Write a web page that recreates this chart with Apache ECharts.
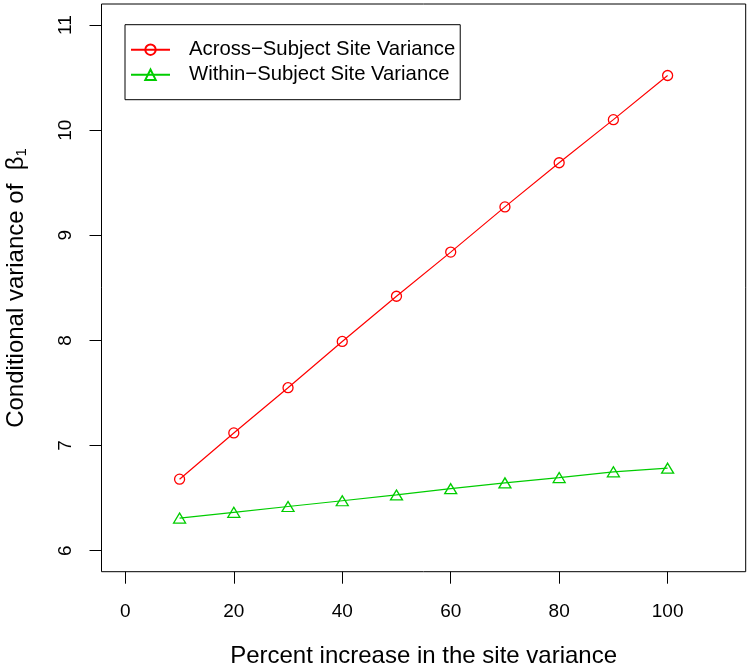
<!DOCTYPE html>
<html>
<head>
<meta charset="utf-8">
<script src="https://cdn.jsdelivr.net/npm/echarts@6/dist/echarts.min.js"></script>
<style>html,body{margin:0;padding:0;background:#fff}#c{width:750px;height:671px}</style>
</head>
<body>
<div id="c"></div>
<script>
const xValues = [10, 20, 30, 40, 50, 60, 70, 80, 90, 100];
const acrossValues = [6.68, 7.12, 7.55, 7.99, 8.42, 8.84, 9.27, 9.69, 10.10, 10.52];
const withinValues = [6.31, 6.365, 6.42, 6.475, 6.53, 6.59, 6.645, 6.695, 6.75, 6.785];
const xTicks = [0, 20, 40, 60, 80, 100];
const yTicks = [6, 7, 8, 9, 10, 11];
const seriesNames = ['Across\u2212Subject Site Variance', 'Within\u2212Subject Site Variance'];
const xTitle = 'Percent increase in the site variance';
const yTitle = 'Conditional variance of  \u03b2';

const FONT = '"Liberation Sans", Arial, Helvetica, sans-serif';
const chart = echarts.init(document.getElementById('c'), null, {renderer: 'canvas'});
const pairs = v => xValues.map((x, i) => [x, v[i]]);
chart.setOption({
  animation: false,
  backgroundColor: '#fff',
  textStyle: {fontFamily: FONT, color: '#000'},
  grid: {left: 101.5, right: 4.3, top: 4, bottom: 99.3, show: true, borderColor: '#000', borderWidth: 1, backgroundColor: 'transparent'},
  xAxis: {
    type: 'value', min: -4.4, max: 114.4,
    axisLine: {show: false, onZero: false}, splitLine: {show: false},
    axisTick: {show: true, inside: false, length: 12, lineStyle: {color: '#000', width: 1}, customValues: xTicks},
    axisLabel: {show: true, margin: 31, fontSize: 19, color: '#000', fontFamily: FONT, customValues: xTicks}
  },
  yAxis: {
    type: 'value', min: 5.8, max: 11.2,
    axisLine: {show: false, onZero: false}, splitLine: {show: false},
    axisTick: {show: true, inside: false, length: 12, lineStyle: {color: '#000', width: 1}, customValues: yTicks},
    axisLabel: {show: true, margin: 26, fontSize: 19, rotate: 90, color: '#000', fontFamily: FONT, customValues: yTicks}
  },
  legend: {
    orient: 'vertical', left: 125, top: 24.7,
    padding: [15, 5, 15, 5],
    itemGap: 5, itemWidth: 39, itemHeight: 13,
    borderColor: '#000', borderWidth: 1, backgroundColor: '#fff',
    textStyle: {fontSize: 20.3, color: '#000', fontFamily: FONT, padding: [0, 0, 0, 14]},
    data: seriesNames
  },
  series: [
    {
      name: seriesNames[0], type: 'line', data: pairs(acrossValues),
      symbol: 'circle', symbolSize: 10,
      lineStyle: {color: '#ff0000', width: 1.2},
      itemStyle: {color: 'rgba(255,255,255,0)', borderColor: '#ff0000', borderWidth: 1.3}
    },
    {
      name: seriesNames[1], type: 'line', data: pairs(withinValues),
      symbol: 'triangle', symbolSize: [12, 10],
      lineStyle: {color: '#00cd00', width: 1.2},
      itemStyle: {color: 'rgba(255,255,255,0)', borderColor: '#00cd00', borderWidth: 1.3}
    }
  ],
  graphic: [
    {type: 'text', x: 423.6, y: 644, style: {text: xTitle, fontSize: 24, fill: '#000', fontFamily: FONT, align: 'center', verticalAlign: 'top'}},
    {type: 'text', x: 3, y: 288, rotation: Math.PI / 2,
     style: {text: '{a|' + yTitle + '}{s|1}', align: 'center', verticalAlign: 'top', fill: '#000', fontFamily: FONT,
       rich: {a: {fontSize: 24, fontFamily: FONT, fill: '#000'}, s: {fontSize: 15, fontFamily: FONT, fill: '#000', padding: [11, 0, 0, 0]}}}}
  ]
});
</script>
</body>
</html>
